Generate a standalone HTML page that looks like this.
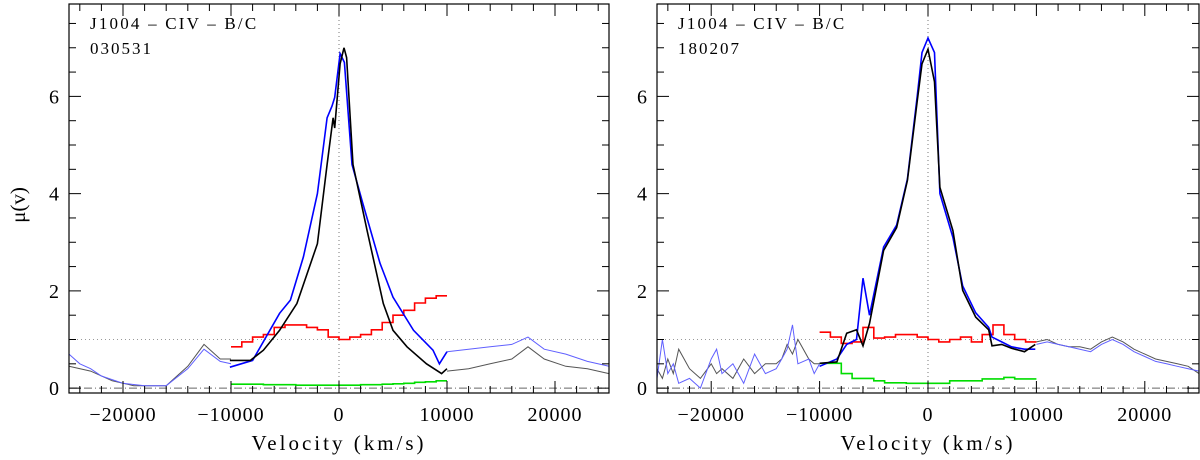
<!DOCTYPE html>
<html><head><meta charset="utf-8"><style>
body{margin:0;background:#fff;width:1200px;height:455px;overflow:hidden}
svg text{font-family:"Liberation Serif",serif;fill:#000}
</style></head><body>
<svg id="chart" width="1200" height="455" xmlns="http://www.w3.org/2000/svg"></svg>
<script>
// velocities in thousands km/s
const leftBlackV=[-10.1,-8.2,-7,-5.5,-3.9,-2.0,-1.1,-0.55,-0.4,0.1,0.46,0.7,1.3,2.6,4.1,5.0,6.3,8.1,9.5,10];
const leftBlackY=[0.57,0.57,0.78,1.19,1.74,2.97,4.6,5.56,5.35,6.67,7.0,6.8,4.6,3.24,1.74,1.19,0.85,0.5,0.3,0.4];
const leftBlueV=[-10.1,-8,-5.5,-4.5,-3.3,-2,-1.1,-0.65,-0.4,0.1,0.5,1.2,2.2,3.8,5.0,6.9,8.7,9.3,10];
const leftBlueY=[0.43,0.57,1.54,1.81,2.7,4.0,5.56,5.8,5.98,6.88,6.7,4.6,3.8,2.57,1.87,1.19,0.78,0.5,0.75];
const leftBlueWingV=[-25,-24,-23,-22,-20,-18,-16,-14,-12.5,-11,-10,10,12,14,16,17.5,19,21,23,25];
const leftBlueWingY=[0.7,0.5,0.4,0.25,0.1,0.05,0.05,0.4,0.8,0.55,0.5,0.75,0.8,0.85,0.9,1.05,0.8,0.7,0.55,0.45];
const leftGreyWingV=[-25,-23,-21,-19,-16,-14,-12.5,-11,-10,10,12,14,16,17.5,19,21,23,25];
const leftGreyWingY=[0.45,0.35,0.15,0.05,0.05,0.45,0.9,0.6,0.6,0.35,0.4,0.5,0.6,0.85,0.6,0.45,0.4,0.3];
const stepEdges=[-10,-9,-8,-7,-6,-5,-4,-3,-2,-1,0,1,2,3,4,5,6,7,8,9];
const leftRed=[0.85,0.95,1.05,1.1,1.25,1.3,1.3,1.25,1.2,1.05,1.0,1.05,1.1,1.2,1.35,1.5,1.6,1.75,1.85,1.9];
const leftGreen=[0.08,0.08,0.08,0.07,0.07,0.07,0.06,0.06,0.06,0.06,0.06,0.06,0.07,0.07,0.08,0.09,0.1,0.12,0.13,0.15];
const rightBlackV=[-10,-8.4,-7.5,-6.6,-6,-5.4,-4.1,-2.9,-1.9,-1.0,-0.55,0,0.6,1.1,2.3,3.2,4.4,5.6,5.9,6.8,7.7,8.9,9.9];
const rightBlackY=[0.51,0.54,1.13,1.2,0.87,1.33,2.83,3.3,4.27,5.9,6.67,6.97,6.3,4.13,3.24,2.01,1.46,1.2,0.87,0.9,0.82,0.75,0.9];
const rightBlueY=[0.45,0.6,0.9,1.0,2.26,1.5,2.9,3.35,4.3,6.0,6.9,7.2,6.9,4.0,3.1,2.1,1.55,1.25,1.05,0.95,0.85,0.8,0.8];
const rightWingV=[-25,-24.5,-24,-23.5,-23,-22,-21,-20,-19.5,-19,-18,-17,-16,-15,-14,-13.5,-13,-12.5,-12,-11,-10.5,-10,10,11,12,13,14,15,16,17,18,19,20,21,22,23,24,25];
const rightBlueWingY=[0.2,1.0,0.3,0.5,0.1,0.2,0.0,0.6,0.8,0.3,0.5,0.1,0.7,0.3,0.4,0.6,0.8,1.3,0.5,0.6,0.3,0.5,0.9,0.95,0.9,0.85,0.8,0.75,0.9,1.0,0.9,0.75,0.65,0.55,0.5,0.45,0.4,0.35];
const rightGreyWingY=[0.4,0.2,0.6,0.3,0.8,0.4,0.2,0.5,0.3,0.4,0.2,0.6,0.3,0.5,0.5,0.6,0.9,0.7,1.0,0.6,0.5,0.5,0.95,1.0,0.9,0.85,0.85,0.8,0.95,1.05,0.95,0.8,0.7,0.6,0.55,0.5,0.45,0.3];
const rightRed=[1.15,1.05,0.92,0.95,1.25,1.03,1.05,1.1,1.1,1.05,1.0,0.95,1.0,1.05,0.95,1.1,1.3,1.1,1.0,0.95];
const rightGreen=[0.51,0.51,0.3,0.2,0.2,0.15,0.11,0.11,0.1,0.1,0.1,0.1,0.15,0.15,0.15,0.19,0.19,0.22,0.19,0.19];
const xTicks=[-20000,-10000,0,10000,20000];
const yTicks=[0,2,4,6];

const svg=document.getElementById('chart');
const NS='http://www.w3.org/2000/svg';
function mk(tag,attrs,parent){const e=document.createElementNS(NS,tag);for(const k in attrs)e.setAttribute(k,attrs[k]);(parent||svg).appendChild(e);return e;}

function panel(L,R,name,date,series){
  const T=4,B=393,xmin=-25,xmax=25,ymin=-0.1,ymax=7.9;
  const sx=v=>L+(v-xmin)/(xmax-xmin)*(R-L);
  const sy=v=>B-(v-ymin)/(ymax-ymin)*(B-T);
  const g=mk('g',{});
  
  
  const l1=mk('line',{x1:L,x2:R,y1:sy(1),y2:sy(1),stroke:'#999',"stroke-dasharray":'1,3'},g);
  
  const l0=mk('line',{x1:L,x2:R,y1:sy(0),y2:sy(0),stroke:'#666',"stroke-dasharray":'8,3,1,3'},g);
  
  const lv=mk('line',{x1:sx(0),x2:sx(0),y1:T,y2:B,stroke:'#777',"stroke-dasharray":'1,3'},g);
  
  function line(vs,ys,color,w,nm){
    const d=vs.map((v,i)=>(i?'L':'M')+sx(v).toFixed(1)+','+sy(ys[i]).toFixed(1)).join('');
    const p=mk('path',{d:d,fill:'none',stroke:color,"stroke-width":w},g);
    
  }
  function steps(ys,color,nm){
    let d='';
    stepEdges.forEach((e,i)=>{d+=(i?'L':'M')+sx(e).toFixed(1)+','+sy(ys[i]).toFixed(1)+'L'+sx(e+1).toFixed(1)+','+sy(ys[i]).toFixed(1);});
    const p=mk('path',{d:d,fill:'none',stroke:color,"stroke-width":1.6},g);
    
  }
  series(line,steps);
  const fr=mk('rect',{x:L,y:T,width:R-L,height:B-T,fill:'none',stroke:'#000',"stroke-width":1.2},g);
  
  for(let v=-24;v<=24;v+=2){
    const big=v%10===0,len=big?12:7;
    mk('line',{x1:sx(v),x2:sx(v),y1:B,y2:B-len,stroke:'#000'},g);
    mk('line',{x1:sx(v),x2:sx(v),y1:T,y2:T+len,stroke:'#000'},g);
  }
  for(let y=0;y<=7.5;y+=0.5){
    const big=y%2===0,len=big?12:7;
    mk('line',{x1:L,x2:L+len,y1:sy(y),y2:sy(y),stroke:'#000'},g);
    mk('line',{x1:R,x2:R-len,y1:sy(y),y2:sy(y),stroke:'#000'},g);
  }
  xTicks.forEach(t=>{const tx=mk('text',{x:sx(t/1000),y:421,"text-anchor":'middle',"font-size":20,"letter-spacing":'1'},g);tx.textContent=(t<0?'\u2212':'')+Math.abs(t);
    });
  yTicks.forEach(t=>{const tx=mk('text',{x:L-10,y:sy(t)+7,"text-anchor":'end',"font-size":20},g);tx.textContent=t;
    });
  const xt=mk('text',{x:(L+R)/2,y:450,"text-anchor":'middle',"font-size":21,"letter-spacing":'3'},g);
  xt.textContent='Velocity (km/s)';
  const t1=mk('text',{x:L+21,y:29,"font-size":17,"letter-spacing":'2.2'},g);
  t1.textContent='J1004 \u2013 CIV \u2013 B/C';
  const t2=mk('text',{x:L+21,y:54,"font-size":17,"letter-spacing":'2'},g);
  t2.textContent=date;
}
panel(69,609,'left','030531',(line,steps)=>{
  line(leftGreyWingV.slice(0,9),leftGreyWingY.slice(0,9),'#555',1,'grey-wing-left');
  line(leftGreyWingV.slice(9),leftGreyWingY.slice(9),'#555',1,'grey-wing-right');
  line(leftBlueWingV.slice(0,11),leftBlueWingY.slice(0,11),'#6060ff',1,'blue-wing-left');
  line(leftBlueWingV.slice(11),leftBlueWingY.slice(11),'#6060ff',1,'blue-wing-right');
  steps(leftRed,'#f00','red-ratio');
  steps(leftGreen,'#0d0','green-ratio');
  line(leftBlueV,leftBlueY,'#00f',1.6,'blue-profile');
  line(leftBlackV,leftBlackY,'#000',1.6,'black-profile');
});
panel(657,1199,'right','180207',(line,steps)=>{
  line(rightWingV.slice(0,22),rightGreyWingY.slice(0,22),'#555',1,'grey-wing-left');
  line(rightWingV.slice(22),rightGreyWingY.slice(22),'#555',1,'grey-wing-right');
  line(rightWingV.slice(0,22),rightBlueWingY.slice(0,22),'#6060ff',1,'blue-wing-left');
  line(rightWingV.slice(22),rightBlueWingY.slice(22),'#6060ff',1,'blue-wing-right');
  steps(rightRed,'#f00','red-ratio');
  steps(rightGreen,'#0d0','green-ratio');
  line(rightBlackV,rightBlueY,'#00f',1.6,'blue-profile');
  line(rightBlackV,rightBlackY,'#000',1.6,'black-profile');
});
const yl=mk('text',{x:0,y:0,"font-size":21,"text-anchor":'middle',transform:'translate(25,205) rotate(-90)'});
yl.textContent='\u03bc(v)';


</script>
</body></html>
